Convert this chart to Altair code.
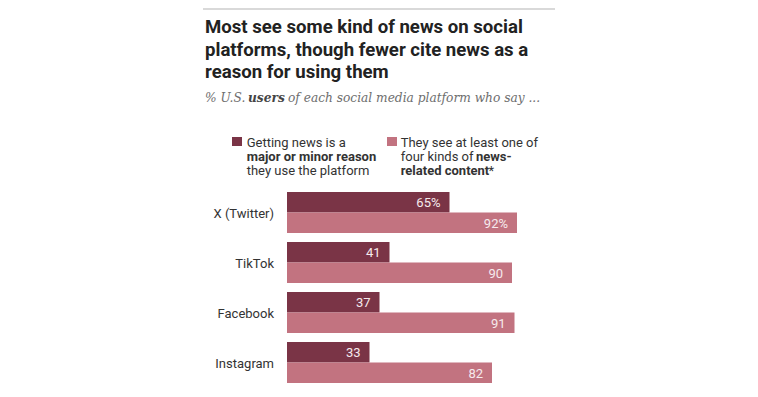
import altair as alt
import pandas as pd

platforms = ["X (Twitter)", "TikTok", "Facebook", "Instagram"]
series = ["reason", "content"]
reason_vals = [65, 41, 37, 33]
content_vals = [92, 90, 91, 82]
reason_labels = ["65%", "41", "37", "33"]
content_labels = ["92%", "90", "91", "82"]
colors = ["#7a3446", "#c27380"]

title_lines = ["Most see some kind of news on social",
               "platforms, though fewer cite news as a",
               "reason for using them"]

SANS = "Roboto"
SERIF = "DejaVu Serif"
DARK = "#333333"

rows = []
for p, rv, cv, rl, cl in zip(platforms, reason_vals, content_vals, reason_labels, content_labels):
    rows.append({"platform": p, "series": "reason", "value": rv, "label": rl})
    rows.append({"platform": p, "series": "content", "value": cv, "label": cl})
df = pd.DataFrame(rows)
cats = pd.DataFrame({"platform": platforms})
dummy = pd.DataFrame({"a": [0]})

xs = alt.Scale(domain=[0, 100], range=[279, 529])
ys = alt.Scale(domain=platforms, range=[184, 375], paddingInner=0.18, paddingOuter=0)
yo = alt.YOffset("series:N", sort=series, scale=alt.Scale(domain=series, paddingInner=0, paddingOuter=0))

bars = alt.Chart(df).mark_bar(cornerRadius=0).encode(
    x=alt.X("value:Q", scale=xs, axis=None),
    y=alt.Y("platform:N", sort=platforms, scale=ys, axis=None),
    yOffset=yo,
    color=alt.Color("series:N", scale=alt.Scale(domain=series, range=colors), legend=None),
)
labels = alt.Chart(df).mark_text(align="right", baseline="middle", dx=-9, dy=1,
                                  font=SANS, fontSize=13, color="#f6eaed").encode(
    x=alt.X("value:Q", scale=xs, axis=None),
    y=alt.Y("platform:N", sort=platforms, scale=ys, axis=None),
    yOffset=yo,
    text="label:N",
)
catlab = alt.Chart(cats).mark_text(align="right", baseline="middle", font=SANS,
                                   fontSize=13, color=DARK, dy=1).encode(
    x=alt.value(266),
    y=alt.Y("platform:N", sort=platforms, scale=ys, axis=None),
    text="platform:N",
)


def txt(s, x, y, size=13, weight="normal", style="normal", font=SANS, color=DARK):
    return alt.Chart(dummy).mark_text(
        text=s, align="left", baseline="alphabetic", fontSize=size,
        fontWeight=weight, fontStyle=style, font=font, color=color,
    ).encode(x=alt.value(x), y=alt.value(y))


def rect(x, x2, y, y2, color):
    return alt.Chart(dummy).mark_rect(color=color).encode(
        x=alt.value(x), x2=alt.value(x2), y=alt.value(y), y2=alt.value(y2))


topline = alt.Chart(dummy).mark_rule(color="#d9d9d9", strokeWidth=2).encode(
    x=alt.value(195), x2=alt.value(547), y=alt.value(1))

annots = [topline]
for i, line in enumerate(title_lines):
    annots.append(txt(line, 197, 25 + i * 22.5, size=18.6, weight="bold", color="#222222"))

annots += [
    txt("% U.S.", 197, 94, size=12.2, style="italic", font=SERIF, color="#6e6e6e"),
    txt("users", 240, 94, size=12.2, style="italic", weight="bold", font=SERIF, color="#444444"),
    txt("of each social media platform who say ...", 280, 94, size=12.2, style="italic", font=SERIF, color="#6e6e6e"),
    rect(224, 234, 129, 138, colors[0]),
    rect(379, 389, 129, 138, colors[1]),
    txt("Getting news is a", 238.7, 138.7),
    txt("major or minor reason", 238.7, 152.8, weight="bold"),
    txt("they use the platform", 238.7, 167),
    txt("They see at least one of", 392.7, 138.7),
    txt("four kinds of", 392.7, 152.8),
    txt("news-", 468, 152.8, weight="bold"),
    txt("related content", 392.7, 167, weight="bold"),
    txt("*", 480.5, 167),
]

chart = alt.layer(bars, labels, catlab, *annots).properties(
    width=742, height=381,
    autosize=alt.AutoSizeParams(type="none"),
    padding=0,
).configure_view(stroke=None)

chart.save("out.html", embed_options={"renderer": "svg", "actions": False})
